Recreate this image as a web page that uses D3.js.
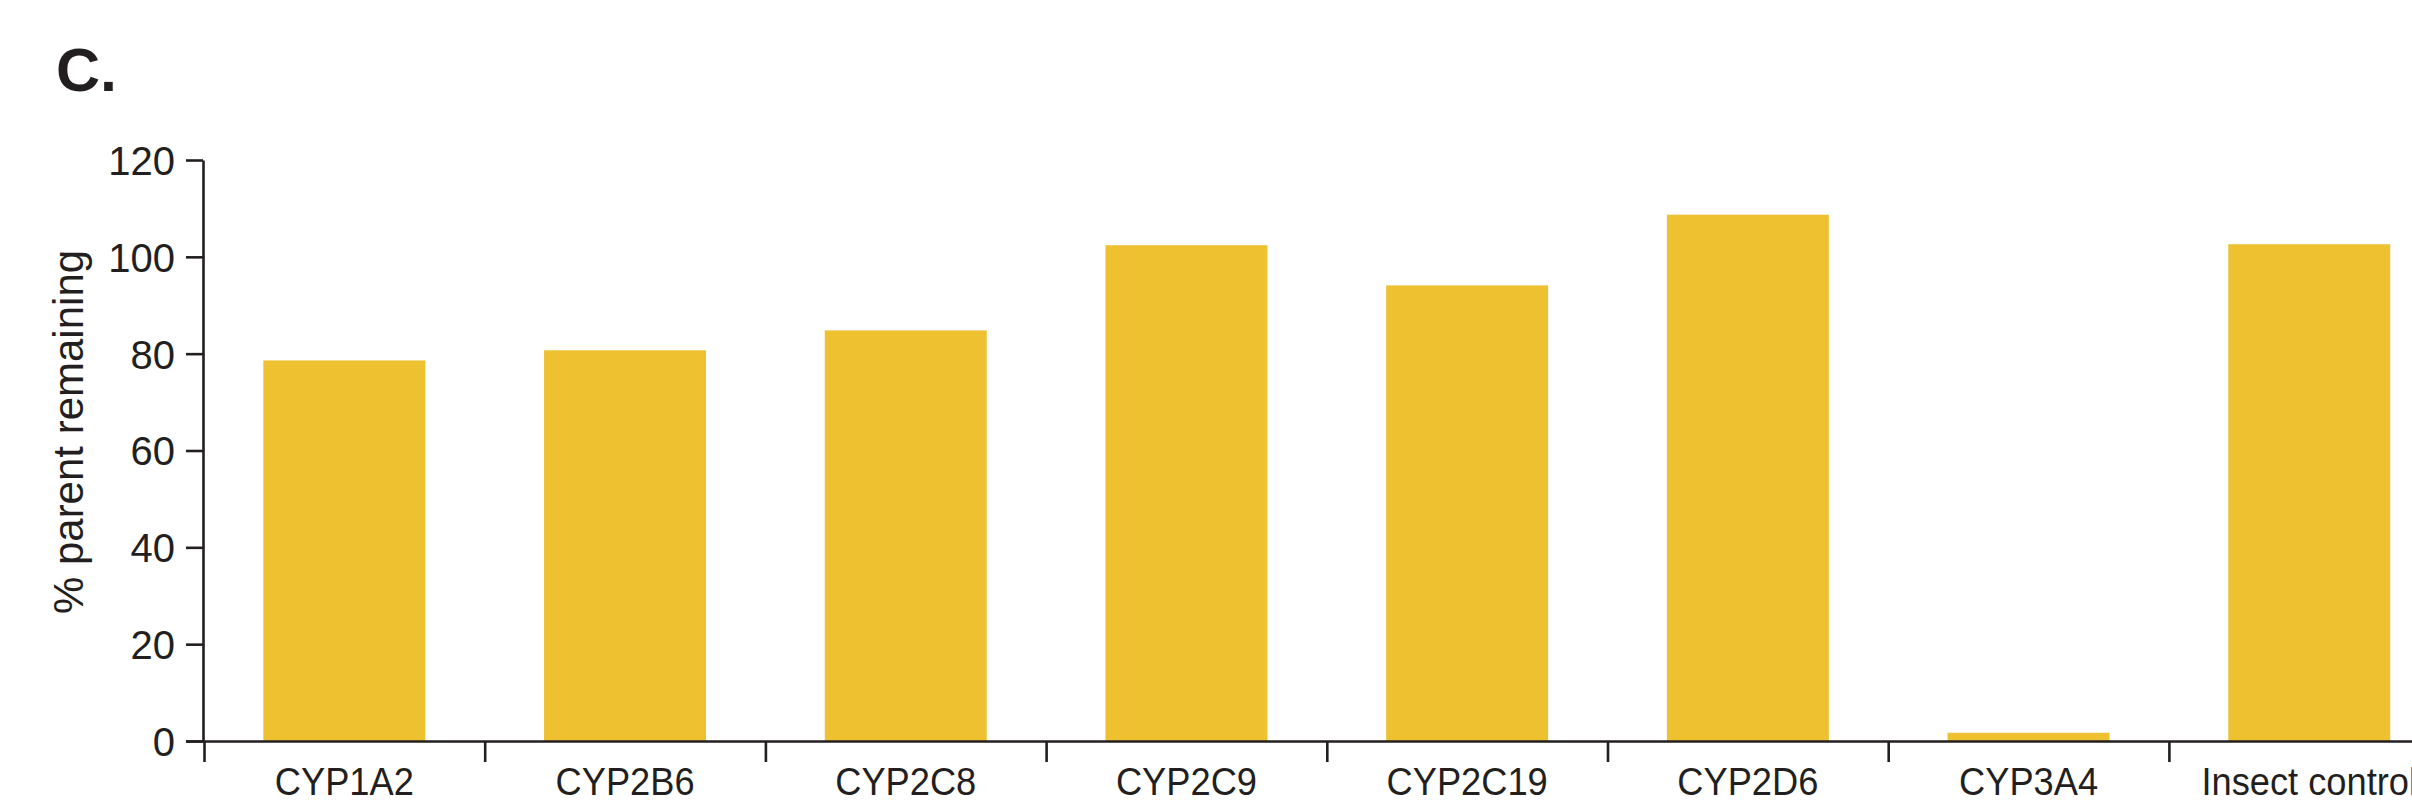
<!DOCTYPE html>
<html>
<head>
<meta charset="utf-8">
<script src="https://cdn.jsdelivr.net/npm/d3@7"></script>
<style>
  html, body { margin: 0; padding: 0; background: #fff; }
  svg { display: block; overflow: hidden; }
  text { font-family: "Liberation Sans", Arial, Helvetica, sans-serif; fill: #231f20; }
</style>
</head>
<body>
<div id="chart"></div>
<script>
// the data
const categories = ['CYP1A2', 'CYP2B6', 'CYP2C8', 'CYP2C9', 'CYP2C19', 'CYP2D6', 'CYP3A4', 'Insect control']
const pctRemaining = [78.6, 80.7, 84.8, 102.4, 94.1, 108.7, 1.7, 102.6]
const yTicks = [0, 20, 40, 60, 80, 100, 120]

const W = 2412, H = 804
const ink = '#231f20'
const barColor = '#edc12f'

// plot box, the last band runs off the right edge like the original
const x0 = 204, step = 280.7
const yBase = 741, yTop = 160

const svg = d3.select('#chart').append('svg')
  .attr('width', W)
  .attr('height', H)

const x = d3.scaleBand()
  .domain(categories)
  .range([x0, x0 + step * categories.length])
  .paddingInner(0.423)
  .paddingOuter(0.2115)

const y = d3.scaleLinear()
  .domain([0, 120])
  .range([yBase, yTop])

// bars
svg.append('g')
  .selectAll('rect')
  .data(pctRemaining)
  .join('rect')
  .attr('x', (d, i) => x(categories[i]))
  .attr('y', d => y(d))
  .attr('width', x.bandwidth())
  .attr('height', d => y(0) - y(d))
  .attr('fill', barColor)

// y axis
const yAxis = svg.append('g')
  .attr('transform', `translate(${x0 - 1},0)`)
  .call(d3.axisLeft(y).tickValues(yTicks).tickSize(17).tickSizeOuter(0).tickPadding(11))
yAxis.selectAll('path, line').attr('stroke', ink).attr('stroke-width', 2.6)
yAxis.selectAll('text')
  .attr('font-size', 40)
  .attr('fill', ink)
  .attr('dy', '0.36em')

// x axis: line + ticks on the band boundaries
const xb = d3.scaleLinear().domain([0, categories.length]).range(x.range())
const xAxis = svg.append('g')
  .attr('transform', `translate(0,${yBase})`)
  .call(d3.axisBottom(xb).tickValues(d3.range(0, categories.length + 1)).tickSize(21).tickSizeOuter(0).tickFormat(''))
xAxis.selectAll('path, line').attr('stroke', ink).attr('stroke-width', 2.6)
xAxis.select('.domain').attr('d', `M${x0 - 18},0.5H${W + 10}`)

// category labels, a touch narrow like the source font
svg.append('g')
  .selectAll('text')
  .data(categories)
  .join('text')
  .attr('transform', d => `translate(${x(d) + x.bandwidth() / 2},795) scale(0.93,1)`)
  .attr('text-anchor', 'middle')
  .attr('font-size', 39)
  .text(d => d)

// y title
svg.append('text')
  .attr('transform', 'translate(83,432) rotate(-90)')
  .attr('text-anchor', 'middle')
  .attr('font-size', 42)
  .text('% parent remaining')

// panel letter
svg.append('text')
  .attr('x', 56)
  .attr('y', 91)
  .attr('font-size', 61)
  .attr('font-weight', 'bold')
  .text('C.')
</script>
</body>
</html>
